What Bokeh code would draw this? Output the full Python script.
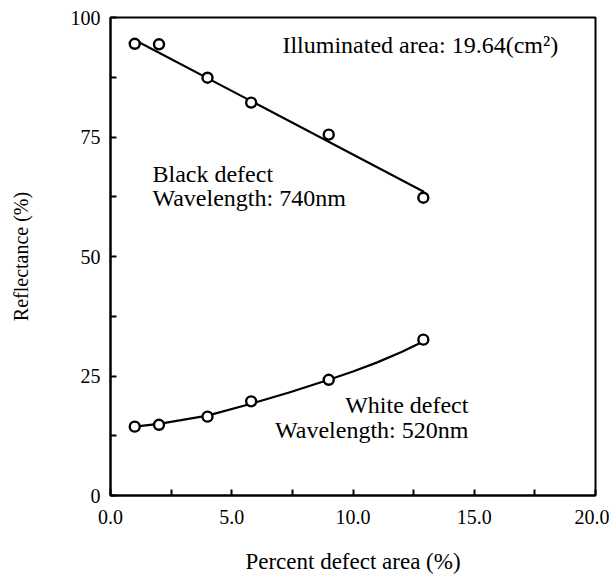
from bokeh.plotting import figure
from bokeh.models import Range1d, FixedTicker, PrintfTickFormatter, Label
from bokeh.embed import file_html
from bokeh.resources import INLINE

# Data
defect_area = [1.0, 2.0, 4.0, 5.8, 9.0, 12.9]
black_reflectance = [94.5, 94.4, 87.4, 82.2, 75.5, 62.3]
white_area = [1.0, 2.0, 4.0, 5.8, 9.0, 12.9]
white_reflectance = [14.4, 14.8, 16.5, 19.7, 24.2, 32.6]

# Fitted curves as drawn in the reference
black_fit_x = [1.0, 12.9]
black_fit_y = [95.3, 63.6]
white_fit_x = [1.0, 2.0, 4.0, 5.8, 7.4, 9.0, 10.0, 11.0, 12.0, 12.9]
white_fit_y = [14.4, 15.0, 16.7, 19.2, 21.6, 24.2, 25.95, 27.85, 30.0, 32.2]

x_major = [0, 5, 10, 15, 20]
x_minor = [2.5, 7.5, 12.5, 17.5]
y_major = [0, 25, 50, 75, 100]
y_minor = [12.5, 37.5, 62.5, 87.5]

FONT = "Liberation Serif"

p = figure(width=609, height=576, output_backend="svg", toolbar_location=None,
           x_range=Range1d(0, 20), y_range=Range1d(0, 100),
           min_border_left=110, min_border_right=14, min_border_top=17,
           min_border_bottom=81)
p.grid.visible = False
p.background_fill_color = "white"
p.border_fill_color = "white"
p.outline_line_color = "black"
p.outline_line_width = 2

p.xaxis.ticker = FixedTicker(ticks=x_major, minor_ticks=x_minor)
p.yaxis.ticker = FixedTicker(ticks=y_major, minor_ticks=y_minor)
p.xaxis.formatter = PrintfTickFormatter(format="%.1f")
for ax in (p.xaxis[0], p.yaxis[0]):
    ax.axis_line_width = 2
    ax.axis_line_color = "black"
    ax.major_tick_in = 6
    ax.major_tick_out = 0
    ax.minor_tick_in = 6
    ax.minor_tick_out = 0
    ax.major_tick_line_width = 2
    ax.minor_tick_line_width = 2
    ax.major_tick_line_color = "black"
    ax.minor_tick_line_color = "black"
    ax.major_label_text_font = FONT
    ax.major_label_text_font_size = "20px"
    ax.major_label_text_color = "black"
    ax.axis_label_text_font = FONT
    ax.axis_label_text_font_style = "normal"
    ax.axis_label_text_color = "black"

p.xaxis.axis_label = "Percent defect area (%)"
p.yaxis.axis_label = "Reflectance (%)"
p.xaxis.axis_label_text_font_size = "23px"
p.yaxis.axis_label_text_font_size = "20px"
p.xaxis.major_label_standoff = 14
p.xaxis.axis_label_standoff = 22
p.yaxis.major_label_standoff = 10
p.yaxis.axis_label_standoff = 36

p.line(black_fit_x, black_fit_y, line_color="black", line_width=2.2,
       line_join="round", line_cap="round")
p.line(white_fit_x, white_fit_y, line_color="black", line_width=2.2,
       line_join="round", line_cap="round")
p.scatter(defect_area, black_reflectance, marker="circle", size=10,
          fill_color="white", line_color="black", line_width=2.4)
p.scatter(white_area, white_reflectance, marker="circle", size=10,
          fill_color="white", line_color="black", line_width=2.4)

labels = [
    ("Illuminated area: 19.64(cm²)", 7.09, 94.2, "left"),
    ("Black defect", 1.73, 67.2, "left"),
    ("Wavelength: 740nm", 1.73, 62.3, "left"),
    ("White defect", 14.76, 19.0, "right"),
    ("Wavelength: 520nm", 14.76, 13.6, "right"),
]
for txt, x, y, align in labels:
    p.add_layout(Label(x=x, y=y, text=txt, text_font=FONT, text_font_size="24px",
                       text_align=align, text_baseline="alphabetic",
                       text_color="black"))

open("out.html", "w").write(file_html(p, INLINE))
